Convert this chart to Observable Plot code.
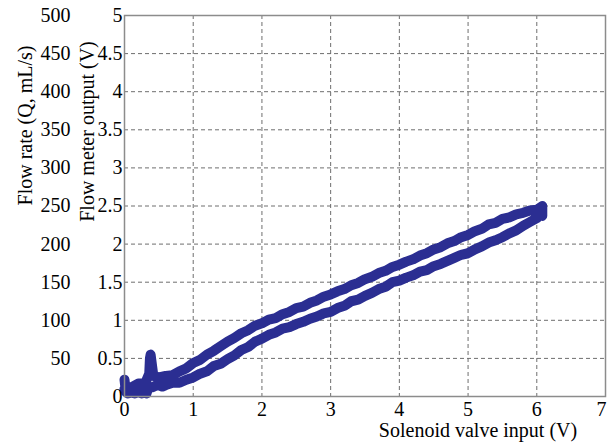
<!DOCTYPE html>
<html>
<head>
<meta charset="utf-8">
<script src="https://cdn.jsdelivr.net/npm/d3@7"></script>
<script src="https://cdn.jsdelivr.net/npm/@observablehq/plot@0.6"></script>
<style>
  html, body { margin: 0; padding: 0; background: #fff; }
</style>
</head>
<body>
<div id="chart"></div>
<script>
// Solenoid valve input (V), increasing sweep (lower branch)
const risingInput = [0.00,0.02,0.05,0.10,0.15,0.20,0.25,0.30,0.32,0.35,0.40,0.45,0.50,0.55,0.60,0.70,0.80,0.90,1.00,1.10,1.20,1.30,1.40,1.50,1.60,1.70,1.80,1.90,2.00,2.10,2.20,2.30,2.40,2.50,2.60,2.70,2.80,2.90,3.00,3.10,3.20,3.30,3.40,3.50,3.60,3.70,3.80,3.90,4.00,4.10,4.20,4.30,4.40,4.50,4.60,4.70,4.80,4.90,5.00,5.10,5.20,5.30,5.40,5.50,5.60,5.70,5.80,5.90,6.00,6.05,6.08];
const risingOutput = [0.22,0.06,0.04,0.05,0.04,0.06,0.04,0.05,0.04,0.12,0.12,0.14,0.15,0.13,0.15,0.18,0.18,0.22,0.25,0.30,0.33,0.40,0.43,0.49,0.54,0.61,0.65,0.72,0.76,0.81,0.84,0.89,0.91,0.95,0.98,1.02,1.05,1.09,1.11,1.16,1.19,1.25,1.27,1.32,1.36,1.41,1.44,1.50,1.52,1.56,1.59,1.64,1.66,1.71,1.74,1.78,1.82,1.86,1.88,1.93,1.97,2.02,2.05,2.09,2.14,2.18,2.24,2.29,2.34,2.41,2.37];
// Solenoid valve input (V), decreasing sweep (upper branch)
const fallingInput = [6.08,6.00,5.90,5.80,5.70,5.60,5.50,5.40,5.30,5.20,5.10,5.00,4.90,4.80,4.70,4.60,4.50,4.40,4.30,4.20,4.10,4.00,3.90,3.80,3.70,3.60,3.50,3.40,3.30,3.20,3.10,3.00,2.90,2.80,2.70,2.60,2.50,2.40,2.30,2.20,2.10,2.00,1.90,1.80,1.70,1.60,1.50,1.40,1.30,1.20,1.10,1.00,0.90,0.80,0.70,0.60,0.50,0.42,0.38,0.37,0.36,0.30,0.20,0.10,0.00];
const fallingOutput = [2.50,2.45,2.44,2.41,2.39,2.35,2.33,2.28,2.26,2.20,2.17,2.12,2.09,2.04,2.01,1.96,1.93,1.88,1.85,1.80,1.77,1.73,1.70,1.65,1.62,1.57,1.54,1.49,1.46,1.41,1.38,1.34,1.31,1.26,1.23,1.18,1.16,1.11,1.08,1.03,1.01,0.96,0.93,0.87,0.83,0.77,0.72,0.66,0.60,0.55,0.48,0.44,0.37,0.33,0.28,0.27,0.25,0.27,0.55,0.50,0.30,0.17,0.17,0.12,0.10];

const xTicks = [0,1,2,3,4,5,6];
const xLastTick = [7];
const voltTicks = [0,0.5,1,1.5,2,2.5,3,3.5,4,4.5,5];
const flowTicks = [50,100,150,200,250,300,350,400,450,500];
const xLabel = "Solenoid valve input (V)";
const yLabelVolt = "Flow meter output (V)";
const yLabelFlow = "Flow rate (Q, mL/s)";

const loop = [
  ...risingInput.map((x, i) => ({x, v: risingOutput[i]})),
  ...fallingInput.map((x, i) => ({x, v: fallingOutput[i]}))
];

const chart = Plot.plot({
  width: 607,
  height: 443,
  marginLeft: 124,
  marginRight: 2,
  marginTop: 15,
  marginBottom: 47,
  style: {fontFamily: "'Liberation Serif', 'Times New Roman', serif", fontSize: "20px", color: "#000", background: "#fff"},
  x: {domain: [0, 7]},
  y: {domain: [0, 5]},
  marks: [
    Plot.gridX([...xTicks, ...xLastTick], {stroke: "#6e6e6e", strokeOpacity: 1, strokeDasharray: "4,3"}),
    Plot.gridY(voltTicks, {stroke: "#6e6e6e", strokeOpacity: 1, strokeDasharray: "4,3"}),
    Plot.line(loop, {x: "x", y: "v", stroke: "#2b2e92", strokeWidth: 10, strokeLinejoin: "round", curve: "linear"}),
    Plot.frame({stroke: "#8c8c8c", strokeWidth: 1.5}),
    Plot.axisX(xTicks, {tickSize: 0, tickPadding: 5, label: null}),
    Plot.axisX(xLastTick, {tickSize: 0, tickPadding: 5, dx: -4, label: null}),
    Plot.axisY(voltTicks, {tickSize: 0, tickPadding: 2, tickFormat: d => String(d), label: null}),
    Plot.axisY(flowTicks.map(q => q / 100), {tickSize: 0, tickPadding: 2, dx: -52, tickFormat: d => String(Math.round(d * 100)), label: null}),
    Plot.text([xLabel], {frameAnchor: "bottom", text: d => d, dx: 113, dy: 40, textAnchor: "middle"}),
    Plot.text([yLabelFlow], {frameAnchor: "top-left", text: d => d, rotate: -90, dx: -107, dy: 110, textAnchor: "middle"}),
    Plot.text([yLabelVolt], {frameAnchor: "top-left", text: d => d, rotate: -90, dx: -45, dy: 116, textAnchor: "middle"})
  ]
});
document.getElementById("chart").appendChild(chart);
</script>
</body>
</html>
